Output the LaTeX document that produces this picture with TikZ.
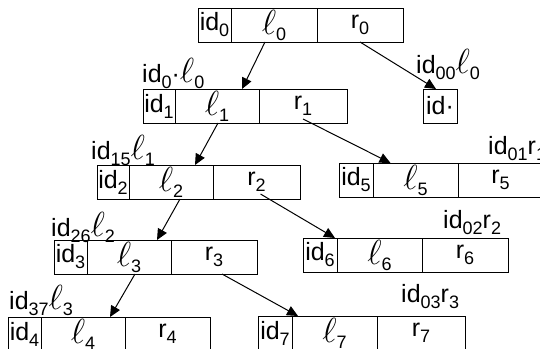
\documentclass[tikz,border=0pt]{standalone}
\usepackage{fontspec}
\usepackage{graphicx}
\setmainfont{Liberation Sans}
\usetikzlibrary{arrows.meta}

% lowered index digits and a large script ell
\newcommand\sbs[1]{\raisebox{-6pt}{\fontsize{18}{18}\selectfont #1}}
\newcommand\ellv{\scalebox{1.4}{$\ell$}}

\tikzset{
  cell/.style={draw, line width=1pt, minimum height=34, inner sep=0pt,
    outer sep=0pt, anchor=north west, font=\fontsize{25}{26}\selectfont},
  tag/.style={anchor=west, inner sep=0pt, font=\fontsize{25}{26}\selectfont},
  link/.style={line width=1pt, -{Triangle[length=11pt,width=10pt]}},
}

% a three-field record: name, four x borders, top y, field texts
\newcommand\record[9]{%
  \node[cell, minimum width={#3-#2}] (#1i) at (#2,#6) {\raisebox{-1.5pt}{#7}};
  \node[cell, minimum width={#4-#3}] (#1l) at (#3,#6) {\raisebox{-1.5pt}{#8}};
  \node[cell, minimum width={#5-#4}] (#1r) at (#4,#6) {\raisebox{-1.5pt}{#9}};
}

\begin{document}
\begin{tikzpicture}[x=1pt,y=-1pt]
\useasboundingbox (0,0) rectangle (540,348);
\clip (0,0) rectangle (540,348);

% records
\record{b0}{198}{231}{317}{403}{8}{id\sbs{0}}{\ellv\sbs{0}}{r\sbs{0}}
\record{b1}{143}{175}{259}{347}{89}{id\sbs{1}}{\ellv\sbs{1}}{r\sbs{1}}
\record{b2}{97}{129}{213}{300}{165}{id\sbs{2}}{\ellv\sbs{2}}{r\sbs{2}}
\record{b5}{339}{373}{458}{543}{163}{id\sbs{5}}{\ellv\sbs{5}}{r\sbs{5}}
\record{b3}{54}{87}{171}{257}{240}{id\sbs{3}}{\ellv\sbs{3}}{r\sbs{3}}
\record{b6}{303}{337}{422}{508}{238}{id\sbs{6}}{\ellv\sbs{6}}{r\sbs{6}}
\record{b4}{8}{41}{125}{210}{317}{id\sbs{4}}{\ellv\sbs{4}}{r\sbs{4}}
\record{b7}{258}{292}{377}{465}{316}{id\sbs{7}}{\ellv\sbs{7}}{r\sbs{7}}
\node[cell, minimum width=34] (bx) at (423,89) {id\textperiodcentered};

% edge labels
\node[tag] (t1) at (142,73)  {id\sbs{0}\textperiodcentered\ellv\sbs{0}};
\node[tag] (t2) at (416,64)  {id\sbs{00}\ellv\sbs{0}};
\node[tag] (t3) at (91,150)  {id\sbs{15}\ellv\sbs{1}};
\node[tag] (t4) at (488,149) {id\sbs{01}r\sbs{1}};
\node[tag] (t5) at (51,227)  {id\sbs{26}\ellv\sbs{2}};
\node[tag] (t6) at (443,223) {id\sbs{02}r\sbs{2}};
\node[tag] (t7) at (9,300)   {id\sbs{37}\ellv\sbs{3}};
\node[tag] (t8) at (401,297) {id\sbs{03}r\sbs{3}};

% pointers
\draw[link] ([xshift=-9pt]b0l.south) -- ([xshift=25pt]b1l.north);
\draw[link] (b0r.south) -- ([xshift=-4pt]bx.north);
\draw[link] ([xshift=1pt]b1l.south) -- ([xshift=24pt]b2l.north);
\draw[link] ([yshift=4pt]b1r.south) -- ([xshift=-25pt]b5l.north);
\draw[link] ([xshift=9pt]b2l.south) -- ([xshift=28pt]b3l.north);
\draw[link] ([xshift=4pt,yshift=5pt]b2r.south) -- ([xshift=-2pt]b6i.north east);
\draw[link] ([xshift=6pt]b3l.south) -- ([xshift=27pt]b4l.north);
\draw[link] ([xshift=8pt]b3r.south) -- ([xshift=6pt]b7i.north east);
\end{tikzpicture}
\end{document}
